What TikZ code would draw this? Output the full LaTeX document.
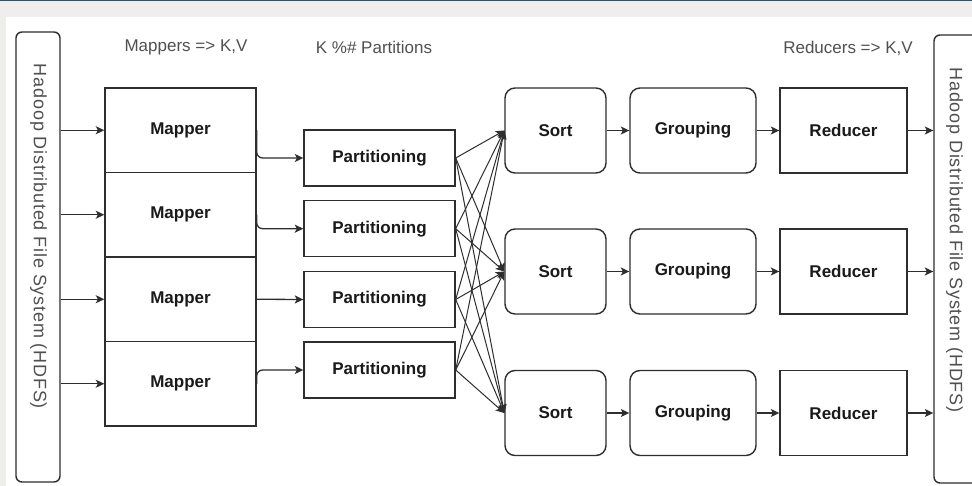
\documentclass[tikz,border=0pt]{standalone}
\usepackage{fontspec}
\setmainfont{Liberation Sans}
\usetikzlibrary{arrows.meta}
\definecolor{ln}{HTML}{2E2E2E}
\definecolor{txt}{HTML}{1A1A1A}
\definecolor{lbl}{HTML}{505050}
\definecolor{bggray}{HTML}{EFEEEC}
\definecolor{topline}{HTML}{1F5A73}
\tikzset{
  box/.style={draw=ln, line width=1.4pt, inner sep=0pt, text=txt,
    font=\fontsize{17}{20}\selectfont\bfseries},
  mapbox/.style={box, minimum width=151pt, minimum height=84.5pt},
  partbox/.style={box, minimum width=151pt, minimum height=56pt},
  sortbox/.style={box, rounded corners=10pt, minimum width=101pt, minimum height=85pt},
  grpbox/.style={box, rounded corners=10pt, minimum width=126pt, minimum height=85pt},
  redbox/.style={box, minimum width=127pt, minimum height=85pt},
  hdfsbox/.style={draw=ln, line width=1.4pt, rounded corners=6pt, minimum width=44pt, inner sep=0pt},
  hdfstext/.style={rotate=-90, text=lbl, font=\fontsize{18}{20}\selectfont\addfontfeature{LetterSpace=4.5}},
  toplabel/.style={text=lbl, font=\fontsize{17}{20}\selectfont},
  arr/.style={draw=ln, line width=1.3pt, -{Stealth[length=8.5pt,width=8pt,inset=2pt]}},
}
\begin{document}
\begin{tikzpicture}[x=1pt,y=-1pt]
\useasboundingbox (0,0) rectangle (972,486);
\fill[bggray] (0,0) rectangle (972,486);
\fill[white] (6,17) rectangle (972,486);
\fill[topline] (0,0) rectangle (972,1.5);

% HDFS boxes
\node[hdfsbox, minimum height=450pt] (hdfsL) at (38,257) {};
\node[hdfstext] (hdfsLt) at (38.5,236.5) {Hadoop Distributed File System (HDFS)};
\node[hdfsbox, minimum height=448pt] (hdfsR) at (956,259) {};
\node[hdfstext] (hdfsRt) at (954.5,240) {Hadoop Distributed File System (HDFS)};

% top labels
\node[toplabel] (lm) at (186,47) {Mappers => K,V};
\node[toplabel] (lp) at (374,47) {K \%\# Partitions};
\node[toplabel] (lr) at (848,48) {Reducers => K,V};

% mappers
\node[mapbox] (m1) at (180.5,130.25) {Mapper};
\node[mapbox] (m2) at (180.5,214.75) {Mapper};
\node[mapbox] (m3) at (180.5,299.25) {Mapper};
\node[mapbox] (m4) at (180.5,383.75) {Mapper};

% partitions
\node[partbox] (p1) at (379.5,158) {Partitioning};
\node[partbox] (p2) at (379.5,228.7) {Partitioning};
\node[partbox] (p3) at (379.5,299.5) {Partitioning};
\node[partbox] (p4) at (379.5,370) {Partitioning};

% sort / grouping / reducer
\foreach \i/\y in {1/130.5, 2/271.5, 3/413} {
  \node[sortbox] (s\i) at (555.5,\y) {Sort};
  \node[grpbox] (g\i) at (693,\y) {Grouping};
  \node[redbox] (r\i) at (843.5,\y) {Reducer};
}

% HDFS -> mappers
\foreach \i in {1,2,3,4} {
  \draw[arr] (hdfsL.east |- m\i.west) -- (m\i.west);
}

% mappers -> partitions
\draw[arr, rounded corners=6pt] (m1.east) |- (p1.west);
\draw[arr, rounded corners=6pt] (m2.east) |- (p2.west);
\draw[arr] (m3.east) -- (p3.west);
\draw[arr, rounded corners=6pt] (m4.east) |- (p4.west);

% shuffle
\foreach \p in {1,2,3,4} {
  \foreach \s in {1,2,3} {
    \draw[arr, line width=1pt] (p\p.east) -- (s\s.west);
  }
}

% sort -> grouping -> reducer -> HDFS
\foreach \i in {1,2,3} {
  \draw[arr] (s\i.east) -- (g\i.west);
  \draw[arr] (g\i.east) -- (r\i.west);
  \draw[arr] (r\i.east) -- (hdfsR.west |- r\i.east);
}
\end{tikzpicture}
\end{document}
